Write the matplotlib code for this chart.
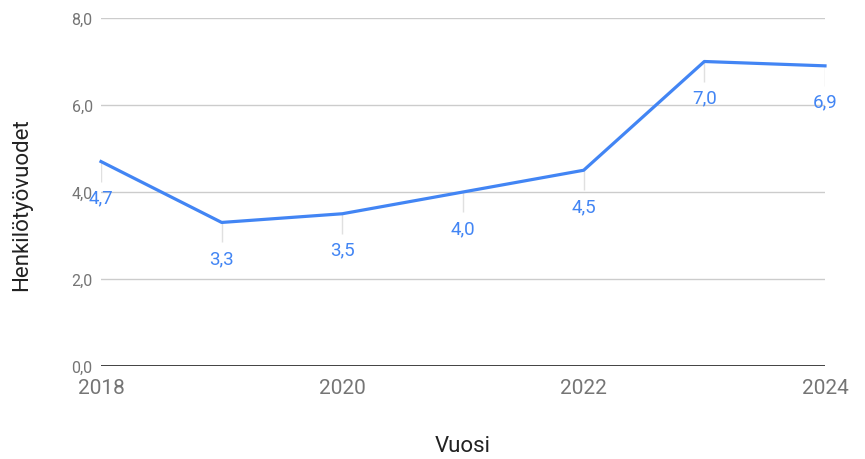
import matplotlib.pyplot as plt

plt.rcParams['font.family'] = ['Roboto', 'DejaVu Sans']

# data
years = [2018, 2019, 2020, 2021, 2022, 2023, 2024]
values = [4.7, 3.3, 3.5, 4.0, 4.5, 7.0, 6.9]
x_ticks = [2018, 2020, 2022, 2024]
y_ticks = [0, 2, 4, 6, 8]

blue = '#4285F4'
grey_text = '#757575'

fig = plt.figure(figsize=(8.65, 4.6), dpi=100)
ax = fig.add_axes([101 / 865, 1 - 367 / 460, 724 / 865, 348 / 460])

ax.set_xlim(2018, 2024)
ax.set_ylim(0, 8)

# grid lines
for t in y_ticks:
    if t == 0:
        ax.axhline(t, color='#333333', lw=1.3, zorder=1)
    else:
        ax.axhline(t, color='#cccccc', lw=1, zorder=1)

# small vertical connector lines under each point
ax.vlines(years, [v - 0.46 for v in values], values, color='#e0e0e0', lw=1, zorder=1)

ax.plot(years, values, color=blue, lw=2.3, zorder=3, clip_on=False)

for x, v in zip(years, values):
    ax.annotate(f'{v:.1f}'.replace('.', ','), (x, v), xytext=(0, -36),
                textcoords='offset pixels', ha='center', va='center',
                color=blue, fontsize=13.5, zorder=4, annotation_clip=False)

ax.set_xticks(x_ticks)
ax.set_xticklabels([str(t) for t in x_ticks], fontsize=15, color=grey_text)
ax.set_yticks(y_ticks)
ax.set_yticklabels([f'{t:.1f}'.replace('.', ',') for t in y_ticks], fontsize=11.5, color=grey_text)
ax.tick_params(axis='x', length=0, pad=9)
ax.tick_params(axis='y', length=0, pad=6)

for s in ax.spines.values():
    s.set_visible(False)

fig.text(463 / 865, 1 - 447 / 460, 'Vuosi', ha='center', va='center', fontsize=16, color='#222222')
fig.text(22 / 865, 1 - 205 / 460, 'Henkilötyövuodet', ha='center', va='center',
         rotation=90, fontsize=16, color='#222222')

fig.savefig('out.png', dpi=100)
